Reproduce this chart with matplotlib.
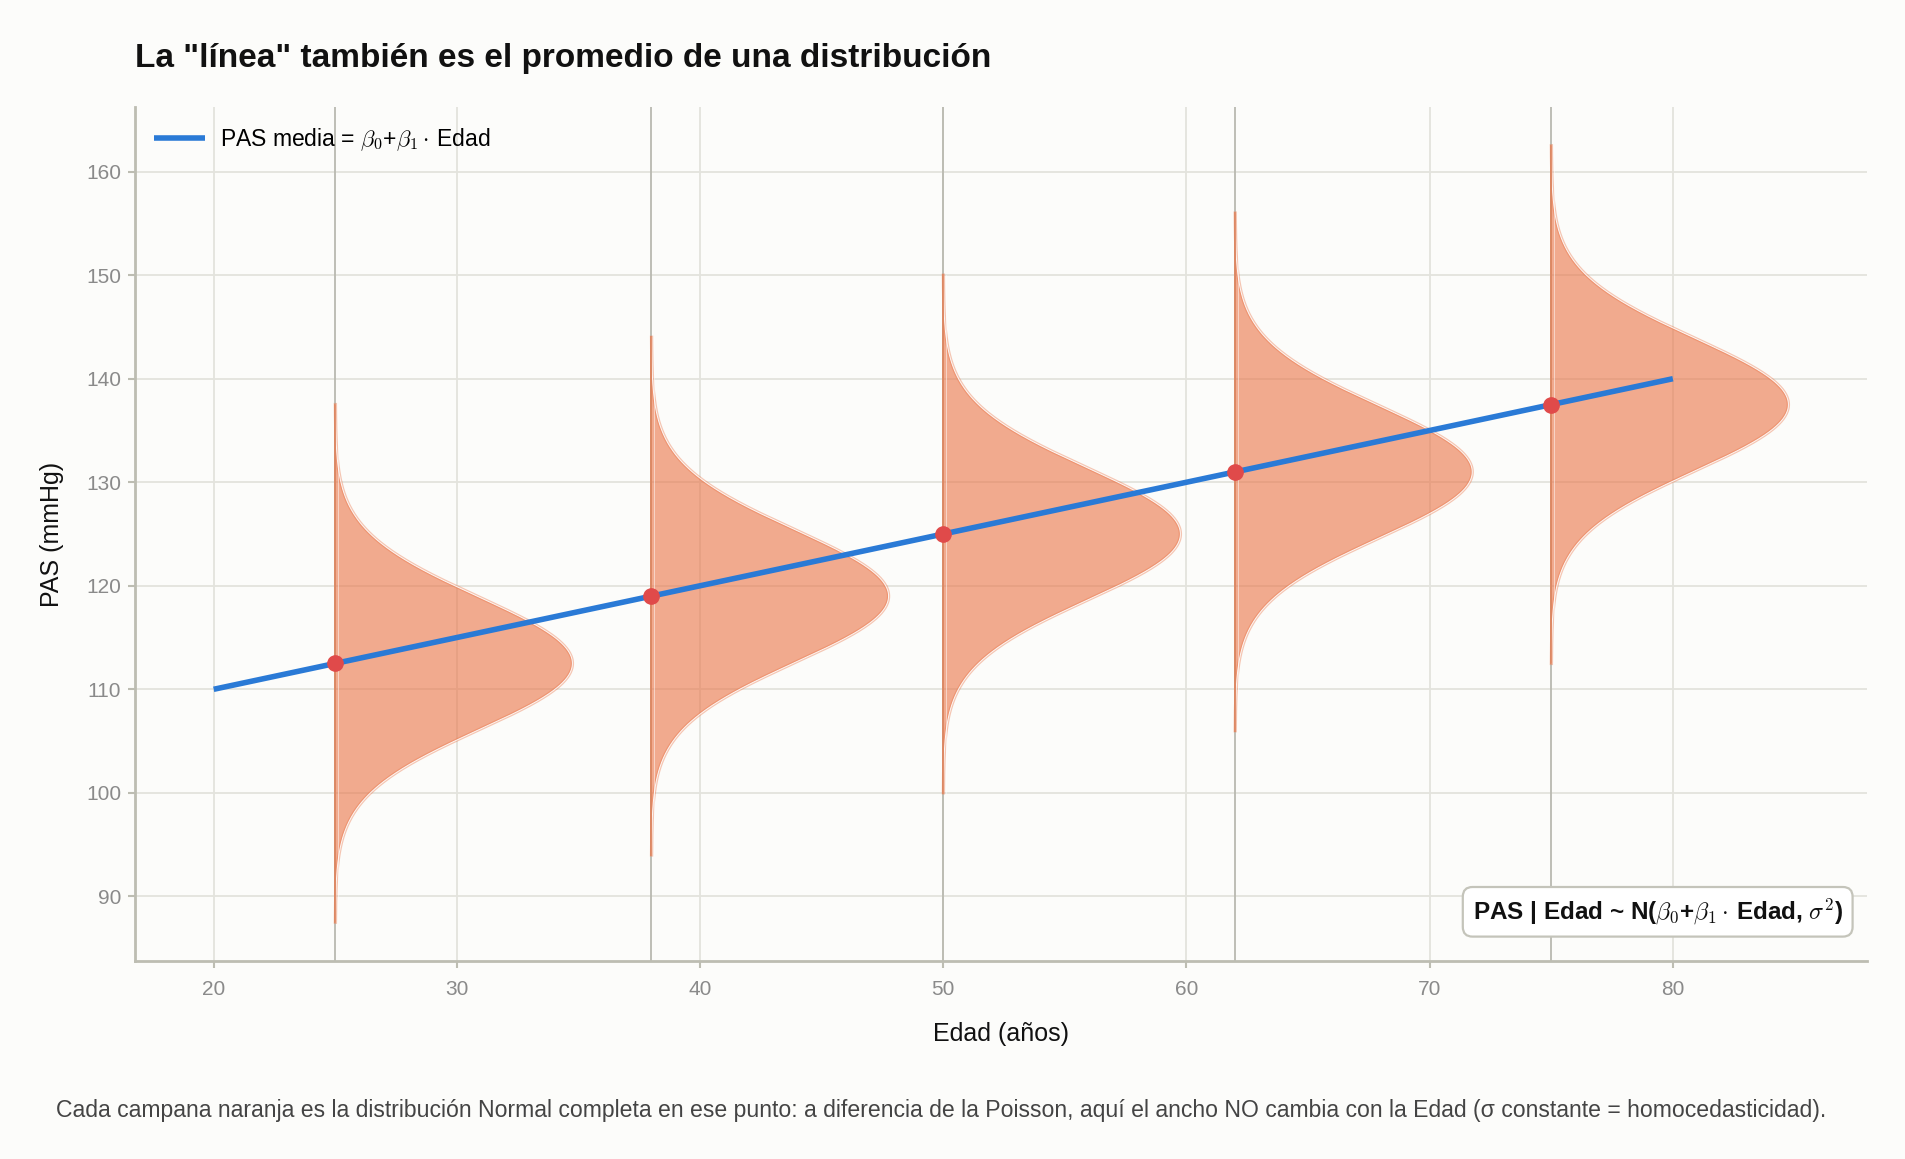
import numpy as np
import matplotlib
matplotlib.use("Agg")
import matplotlib.pyplot as plt

# ---- data ----
edad_linea = [20, 80]
pas_linea = [110, 140]
edades_campana = [25, 38, 50, 62, 75]
medias_campana = [112.5, 119, 125, 131, 137.5]
sigma = 6.4          # constant spread (homoscedasticity)
rango_campana = 25   # bell drawn from mean-25 to mean+25
ancho_max = 9.75     # peak width of each bell in years
xticks = [20, 30, 40, 50, 60, 70, 80]
yticks = [90, 100, 110, 120, 130, 140, 150, 160]

titulo = 'La "línea" también es el promedio de una distribución'
leyenda = r'PAS media = $\beta_0$+$\beta_1 \cdot \,$Edad'
anotacion = r'PAS | Edad ~ N($\beta_0$+$\beta_1 \cdot \,$Edad, $\sigma^2$)'
pie = ("Cada campana naranja es la distribución Normal completa en ese punto: a diferencia de la "
       "Poisson, aquí el ancho NO cambia con la Edad (σ constante = homocedasticidad).")

plt.rcParams['font.family'] = ['Liberation Sans', 'DejaVu Sans']
plt.rcParams['mathtext.fontset'] = 'cm'

BG = '#fcfcfa'
GRID = '#e3e3dd'
SPINE = '#bdbdb2'
ORANGE = '#ea7447'
BLUE = '#2a7ad6'
RED = '#e04a4a'

fig = plt.figure(figsize=(19.06, 11.59), dpi=100, facecolor=BG)
ax = fig.add_axes([0.0708, 0.1708, 0.9088, 0.7369])
ax.set_facecolor(BG)

for xc in edades_campana:
    ax.axvline(xc, color='#b9b9b0', lw=1.3, zorder=1)

for xc, mu in zip(edades_campana, medias_campana):
    y = np.linspace(mu - rango_campana, mu + rango_campana, 600)
    dens = np.exp(-0.5 * ((y - mu) / sigma) ** 2)
    w = xc + ancho_max * dens
    ax.fill_betweenx(y, xc, w, facecolor=ORANGE, alpha=0.6, edgecolor='none', zorder=2)
    ax.plot(w, y, color=ORANGE, alpha=0.4, lw=2.4, zorder=3)
    ax.plot(w, y, color='white', alpha=0.9, lw=0.7, zorder=3)
    ax.plot([xc, xc], [y[0], y[-1]], color='#de8660', lw=1.3, zorder=3)
    ax.plot([xc + 0.1, xc + 0.1], [y[0], y[-1]], color='white', lw=0.5, alpha=0.7, zorder=3)

ax.plot(edad_linea, pas_linea, color=BLUE, lw=4, solid_capstyle='butt', zorder=4, label=leyenda)
ax.plot(edades_campana, medias_campana, 'o', color=RED, ms=11, zorder=5)

ax.set_xticks(xticks)
ax.set_yticks(yticks)
ax.grid(True, color=GRID, lw=1.3, zorder=0)
ax.set_axisbelow(True)
for s in ['top', 'right']:
    ax.spines[s].set_visible(False)
for s in ['left', 'bottom']:
    ax.spines[s].set_color(SPINE)
    ax.spines[s].set_linewidth(2)
ax.tick_params(axis='both', colors=SPINE, labelcolor='#8a8a8a', labelsize=15, length=5, width=1.5)
ax.tick_params(axis='x', pad=9)
ax.tick_params(axis='y', pad=5)

ax.set_xlabel('Edad (años)', fontsize=18, color='#111111', labelpad=16)
ax.set_ylabel('PAS (mmHg)', fontsize=18, color='#111111', labelpad=16)

leg = ax.legend(loc='upper left', frameon=False, fontsize=16.5, handlelength=2.2,
                borderaxespad=0.45, bbox_to_anchor=(0.0, 1.0), handletextpad=0.65)

ax.text(0.986, 0.04, anotacion, transform=ax.transAxes, ha='right', va='bottom',
        fontsize=17.5, fontweight='bold', color='#111111', zorder=6,
        bbox=dict(boxstyle='round,pad=0.4', facecolor='white', edgecolor='#c4c4ba', lw=1.6))

fig.text(0.0708, 1 - 58 / 1159, titulo, ha='left', va='center', fontsize=24,
         fontweight='bold', color='#111111')
fig.text(0.494, 1 - 1110 / 1159, pie, ha='center', va='center', fontsize=16.6, color='#444444')

fig.savefig('out.png', dpi=100, facecolor=BG)
